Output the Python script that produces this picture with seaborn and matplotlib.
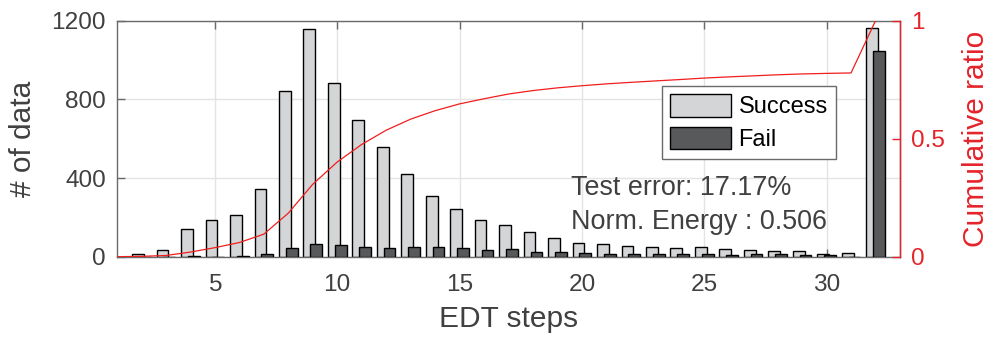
import numpy as np
import pandas as pd
import matplotlib
matplotlib.use("Agg")
import matplotlib.pyplot as plt
from matplotlib.patches import Patch
import seaborn as sns

# ---- data ----
steps = list(range(1, 33))
success = [0, 15, 36, 142, 187, 212, 343, 844, 1158, 883, 695, 559, 420, 310, 242, 185,
           161, 124, 93, 71, 63, 53, 48, 46, 51, 39, 32, 30, 27, 12, 19, 1164]
fail = [0, 0, 0, 2, 0, 5, 12, 43, 66, 58, 48, 43, 48, 48, 46, 32,
        39, 22, 22, 19, 15, 12, 12, 12, 12, 11, 12, 15, 9, 11, 0, 1046]
x_ticks = [5, 10, 15, 20, 25, 30]
y_ticks = [0, 400, 800, 1200]
r_ticks = [0, 0.5, 1]
r_tick_labels = ["0", "0.5", "1"]
series_labels = ["Success", "Fail"]
note_lines = ["Test error: 17.17%", "Norm. Energy : 0.506"]

df = pd.DataFrame({"step": steps, "success": success, "fail": fail})
total = df["success"] + df["fail"]
df["cum"] = total.cumsum() / total.sum()

plt.rcParams["font.family"] = ["Liberation Sans", "DejaVu Sans"]

GRAY_TXT = "#404040"
SPINE = "#6a6a6a"
C_SUCC = "#d4d5d7"
C_FAIL = "#58595b"
RED_LINE = "#f21d1d"
RED = "#e5232a"

fig = plt.figure(figsize=(9.94, 3.41), dpi=100)
ax = fig.add_axes([117 / 994, 1 - 256.7 / 341, (900 - 117) / 994, (256.7 - 20.7) / 341])

off = 0.14
sns.barplot(x=df["step"] - off, y=df["success"], native_scale=True, width=0.48,
            color=C_SUCC, saturation=1, edgecolor="black", linewidth=1.0,
            errorbar=None, ax=ax, zorder=2)
sns.barplot(x=df["step"] + off, y=df["fail"], native_scale=True, width=0.48,
            color=C_FAIL, saturation=1, edgecolor="black", linewidth=1.0,
            errorbar=None, ax=ax, zorder=3)

ax.set_xlim(1, 33)
ax.set_ylim(0, 1200)
ax.set_xticks(x_ticks)
ax.set_xticklabels([str(t) for t in x_ticks])
ax.set_yticks(y_ticks)
ax.set_yticklabels([str(t) for t in y_ticks])
ax.set_axisbelow(True)
ax.grid(True, color="#e4e4e4", linewidth=1.0)
ax.xaxis.set_ticks_position("both")
ax.yaxis.set_ticks_position("both")
ax.tick_params(direction="in", length=6, width=1, color=SPINE,
               labelsize=17.6, labelcolor=GRAY_TXT, pad=8)
ax.tick_params(axis="x", pad=12.2)
for s in ["left", "top", "bottom", "right"]:
    ax.spines[s].set_color(SPINE)
    ax.spines[s].set_linewidth(1.0)
ax.set_xlabel("EDT steps", fontsize=21.5, color=GRAY_TXT, labelpad=6.5)
ax.set_ylabel("# of data", fontsize=21.5, color=GRAY_TXT, labelpad=10.5)

for i, line in enumerate(note_lines):
    ax.text(19.55, [314, 139][i], line, fontsize=19.4, color=GRAY_TXT,
            ha="left", va="baseline", zorder=5)

ax2 = ax.twinx()
sns.lineplot(x=df["step"], y=df["cum"], color=RED_LINE, linewidth=0.9, ax=ax2)
ax2.set_ylim(0, 1)
ax2.set_yticks(r_ticks)
ax2.set_yticklabels(r_tick_labels)
ax2.tick_params(axis="y", direction="in", length=6, width=1, color=RED,
                labelsize=17.6, labelcolor=RED, pad=8)
for s in ["left", "top", "bottom"]:
    ax2.spines[s].set_visible(False)
ax2.spines["right"].set_color(RED)
ax2.spines["right"].set_linewidth(1.0)
ax2.set_ylabel("Cumulative ratio", fontsize=21.5, color=RED, labelpad=12)
ax2.set_xlabel("")

handles = [Patch(facecolor=C_SUCC, edgecolor="black", linewidth=1.0),
           Patch(facecolor=C_FAIL, edgecolor="black", linewidth=1.0)]
leg = ax2.legend(handles, series_labels, loc="upper right",
                 bbox_to_anchor=((836 - 117) / 783, (256.7 - 85.7) / 236),
                 fontsize=17, frameon=True, fancybox=False, framealpha=1,
                 edgecolor=SPINE, handlelength=2.6, handleheight=1.1,
                 handletextpad=0.3, labelspacing=0.35, borderpad=0.35,
                 borderaxespad=0)
leg.get_frame().set_linewidth(1.0)

fig.savefig("out.png", dpi=100)
